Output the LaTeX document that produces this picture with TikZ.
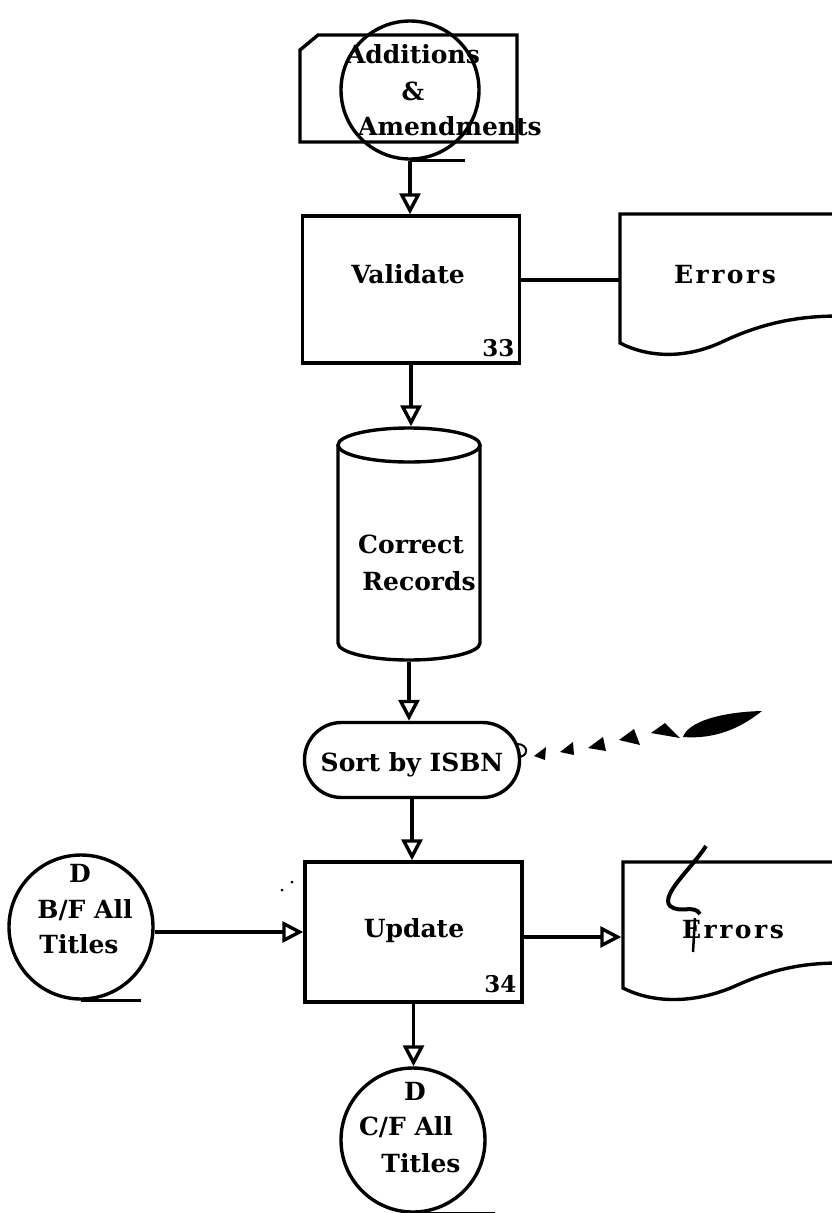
\documentclass[tikz,border=0pt]{standalone}
\usepackage{fontspec}
\setmainfont{DejaVu Serif}
\usetikzlibrary{arrows.meta}
\begin{document}
\begin{tikzpicture}[x=1pt,y=-1pt,line width=3.4pt,
  txt/.style={font=\bfseries\fontsize{25}{37}\selectfont,inner sep=0pt,anchor=base},
  num/.style={font=\bfseries\fontsize{23}{26}\selectfont,inner sep=0pt,anchor=base east},
  arr/.style={-{Triangle[open,length=21pt,width=21pt,fill=white]}},
  procbox/.style={draw,minimum width=217pt,inner sep=0pt},
  store/.style={draw,circle,minimum size=144pt,inner sep=0pt},
  blob/.style={fill=black}]
\useasboundingbox (0,0) rectangle (832,1213);
\clip (0,0) rectangle (832,1213);
\fill[white] (0,0) rectangle (832,1213);

% --- Additions & Amendments (tape + card)
\node[draw,circle,minimum size=138pt,inner sep=0pt] (tape) at (410,90) {};
\draw (318,35) -- (517,35) -- (517,142) -- (300,142) -- (300,50) -- cycle;
\draw (tape.south) -- ++(55,0);
\node[txt] (t1) at (413,63) {Additions};
\node[txt] (t2) at (413,100) {\&};
\node[txt] (t3) at (450,135) {Amendments};

% --- Validate
\node[procbox,minimum height=147pt] (val) at (411,289.5) {};
\node[txt] (valtxt) at (408,283) {Validate};
\node[num] (n33) at (516,356) {33};

% --- Errors (1)
\draw (840,214) -- (620,214) -- (620,343)
  .. controls (647,357) and (685,360) .. (724,341)
  .. controls (765,322) and (800,316) .. (840,316);
\coordinate (err1) at (618.5,280);
\node[txt] (err1txt) at (725,283) {\addfontfeatures{LetterSpace=10}Errors};

% --- Correct Records (drum)
\node[minimum width=142pt,minimum height=232pt,inner sep=0pt,outer sep=1.7pt] (cyl) at (409,544) {};
\draw (409,445) ellipse [x radius=71pt,y radius=17pt];
\draw (338,445) -- (338,643)
  .. controls (338,652.4) and (369.8,660) .. (409,660)
  .. controls (448.2,660) and (480,652.4) .. (480,643) -- (480,445);
\node[txt] (c1) at (411,553) {Correct};
\node[txt] (c2) at (419,590) {Records};

% --- Sort by ISBN
\node[draw,minimum width=215pt,minimum height=75pt,rounded corners=37pt,inner sep=0pt] (sort) at (412,760) {};
\node[txt] (sorttxt) at (412,771) {Sort by ISBN};

% --- Update
\node[procbox,minimum height=140pt] (upd) at (413.5,932) {};
\node[txt] (updtxt) at (414,937) {Update};
\node[num] (n34) at (518,992) {34};

% --- B/F All Titles
\node[store] (bf) at (81,927) {};
\draw (bf.south) -- ++(60,0);
\node[txt] (b1) at (80,882) {D};
\node[txt] (b2) at (85,918) {B/F All};
\node[txt] (b3) at (79,953) {Titles};

% --- C/F All Titles
\node[store] (cf) at (413,1140) {};
\draw (cf.south) -- ++(82,0);
\node[txt] (f1) at (415,1100) {D};
\node[txt] (f2) at (406,1135) {C/F All};
\node[txt] (f3) at (421,1172) {Titles};

% --- Errors (2)
\draw (840,862) -- (623,862) -- (623,988)
  .. controls (650,1002) and (690,1005) .. (733,987)
  .. controls (770,970) and (800,963) .. (840,963);
\coordinate (err2) at (621.3,937);
\node[txt] (err2txt) at (733,938) {\addfontfeatures{LetterSpace=10}Errors};

% --- connectors
\draw[arr] (tape.south) -- (tape.south |- val.north);
\draw (val.east |- err1) -- (err1);
\draw[arr] (val.south) -- (val.south |- cyl.north);
\draw[arr] (cyl.south) -- (cyl.south |- sort.north);
\draw[arr] (sort.south) -- (sort.south |- upd.north);
\draw[arr] (bf.east |- upd.west) -- (upd.west);
\draw[arr] (upd.east |- err2) -- (err2);
\draw[arr] (upd.south) -- (upd.south |- cf.north);

% --- ink marks on the sheet
\draw[line width=2pt] (517,744) .. controls (529,744) and (529,757) .. (518,757);
\fill[blob] (534,756) -- (546,747) -- (545,760) -- cycle;
\fill[blob] (560,752) -- (573,742) -- (574,755) -- cycle;
\fill[blob] (588,748) -- (603,737) -- (606,751) -- cycle;
\fill[blob] (619,740) -- (634,729) -- (640,745) -- cycle;
\fill[blob] (651,733) -- (665,723) -- (680,738) -- cycle;
\fill[blob] (683,737) .. controls (688,722) and (720,712) .. (762,711)
  .. controls (748,722) and (722,740) .. (683,737) -- cycle;
\draw[line width=4pt] (706,846) .. controls (692,868) and (660,895) .. (670,906)
  .. controls (680,914) and (694,904) .. (700,914);
\draw[line width=2.5pt] (695,918) -- (693,952);
\fill[blob] (292,882) circle (1.5pt);
\fill[blob] (282,890) circle (1.5pt);
\end{tikzpicture}
\end{document}
